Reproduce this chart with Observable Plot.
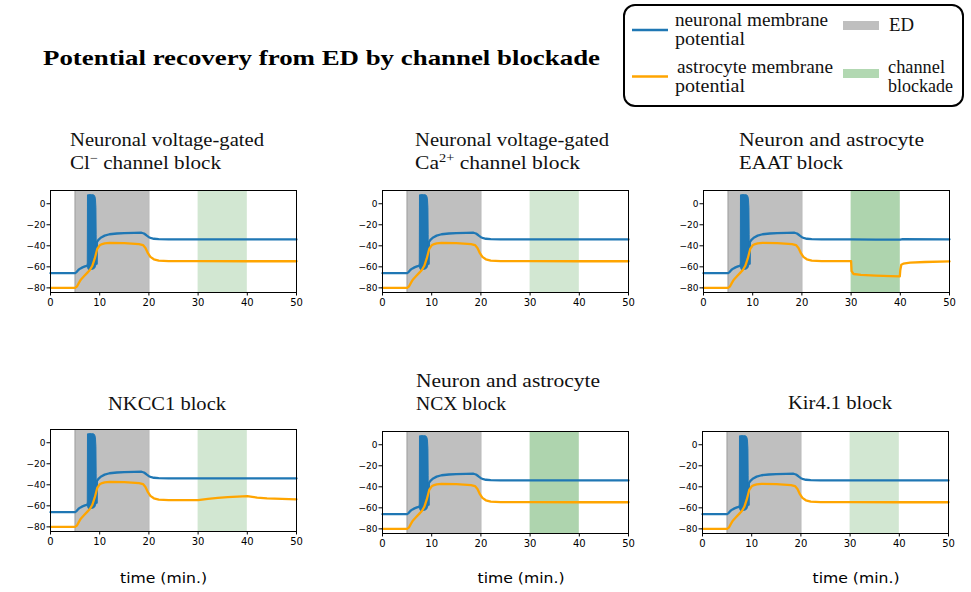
<!DOCTYPE html>
<html><head><meta charset="utf-8">
<script src="https://cdn.jsdelivr.net/npm/d3@7"></script>
<script src="https://cdn.jsdelivr.net/npm/@observablehq/plot@0.6"></script>
<style>
html,body{margin:0;padding:0;background:#fff;}
#root{position:relative;width:971px;height:592px;overflow:hidden;background:#fff;}
.panel{position:absolute;}
#overlay{position:absolute;left:0;top:0;}
</style></head><body><div id="root"></div>
<script>
// ---- tick labels ----
const xTicks = [0, 10, 20, 30, 40, 50];
const yTicks = [0, -20, -40, -60, -80];
// ---- periods (min.) ----
const edPeriod = [5, 20];
const blockPeriod = [30, 40];
// ---- neuronal membrane potential (mV), shared 0-30 min ----
const neuronT = [0, 5, 5.3, 5.7, 6.1, 6.5, 7, 7.6, 9.38, 9.42, 9.8, 10.3, 11, 12, 13.5, 15, 17, 18.5, 19, 19.5, 20, 20.5, 21, 22, 24, 30];
const neuronV = [-66, -66, -65, -62.8, -61.5, -60.5, -59.6, -58.8, -57, -36.5, -34, -32, -30.3, -29, -28.3, -28, -27.7, -27.6, -28.3, -30, -31.8, -32.8, -33.3, -33.6, -33.8, -33.9];
// ---- spike burst envelope (neuron) ----
const spikeT  = [7.58, 7.62, 7.8, 8.4, 8.8, 9.0, 9.15, 9.25, 9.33, 9.38];
const spikeHi = [-58, 8, 8.2, 8.2, 8, 7.5, 6, 3, -4, -30];
const spikeLo = [-58, -61, -63, -63, -62.5, -62, -61, -60, -58, -57];
// ---- astrocyte membrane potential (mV), shared 0-30 min ----
const astroT = [0, 5, 5.4, 5.8, 6.2, 6.8, 7.5, 8, 8.5, 9, 9.5, 10, 10.5, 11, 12, 15, 18, 18.8, 19.3, 19.8, 20.3, 21, 22, 24, 30];
const astroV = [-80, -80, -78.5, -75, -72, -69, -65.5, -63, -59, -52, -43, -39.5, -38.3, -37.6, -37.2, -37.5, -38.4, -39.3, -42, -47, -50.5, -52.8, -54, -54.5, -54.6];
// ---- 30-50 min tails per condition ----
const neuronTailT = [30, 40, 50];
const neuronTailV = [-33.9, -33.9, -33.9];
const neuronTailEaatT = [30, 35, 40, 40.5, 50];
const neuronTailEaatV = [-33.9, -34.1, -34.2, -33.6, -33.8];
const astroTailT = [30, 40, 50];
const astroTailV = [-54.6, -54.7, -54.7];
const astroTailEaatT = [30, 30.1, 30.5, 32, 35, 38, 39.9, 40, 40.2, 40.6, 42, 45, 50];
const astroTailEaatV = [-54.6, -64, -66.8, -67.6, -68.3, -68.8, -69, -63, -58, -57, -56, -55.4, -54.8];
const astroTailNkccT = [30, 32, 34, 36, 38, 40, 41, 42, 44, 47, 50];
const astroTailNkccV = [-54.4, -53.3, -52.4, -51.7, -51.2, -50.7, -51.4, -52.1, -52.9, -53.4, -53.8];
// ---- panels ----
const panelNames = ["Cl", "Ca", "EAAT", "NKCC1", "NCX", "Kir"];
const panelStrongBlock = [false, false, true, false, true, false];

const BLUE = "#1f77b4", ORANGE = "#ffa500", GREY = "#bfbfbf";
const GREEN_LIGHT = "#d2e7d2", GREEN_DARK = "#aed4ae";

const zipRows = (T, V) => T.map((t, i) => ({t, v: V[i]}));
function joinTail(T, V, tT, tV) { return zipRows(T, V).concat(zipRows(tT, tV).slice(1)); }

const layout = [
  {L: 50, T: 190}, {L: 382, T: 190}, {L: 703, T: 190},
  {L: 50, T: 429}, {L: 382, T: 431}, {L: 702, T: 431}
];
const FW = 246, FH = 102, mL = 40, mR = 14, mT = 6, mB = 24;

const root = document.getElementById("root");
panelNames.forEach((name, i) => {
  const nT = name === "EAAT" ? neuronTailEaatT : neuronTailT;
  const nV = name === "EAAT" ? neuronTailEaatV : neuronTailV;
  const aT = name === "EAAT" ? astroTailEaatT : name === "NKCC1" ? astroTailNkccT : astroTailT;
  const aV = name === "EAAT" ? astroTailEaatV : name === "NKCC1" ? astroTailNkccV : astroTailV;
  const neuron = joinTail(neuronT, neuronV, nT, nV);
  const astro = joinTail(astroT, astroV, aT, aV);
  const spike = spikeT.map((t, k) => ({t, hi: spikeHi[k], lo: spikeLo[k]}));
  const chart = Plot.plot({
    width: mL + FW + mR, height: mT + FH + mB,
    marginLeft: mL, marginRight: mR, marginTop: mT, marginBottom: mB,
    style: {fontFamily: "DejaVu Sans", color: "#000", background: "transparent"},
    x: {domain: [0, 50]},
    y: {domain: [-84.4, 12.6]},
    marks: [
      Plot.rect([edPeriod], {x1: d => d[0], x2: d => d[1], fill: GREY}),
      Plot.ruleX(edPeriod, {stroke: "#a3a3a3", strokeWidth: 1}),
      Plot.rect([blockPeriod], {x1: d => d[0], x2: d => d[1], fill: panelStrongBlock[i] ? GREEN_DARK : GREEN_LIGHT}),
      Plot.areaY(spike, {x: "t", y1: "lo", y2: "hi", fill: BLUE, stroke: BLUE, strokeWidth: 1}),
      Plot.line(neuron, {x: "t", y: "v", stroke: BLUE, strokeWidth: 2.3}),
      Plot.line(astro, {x: "t", y: "v", stroke: ORANGE, strokeWidth: 2.3}),
      Plot.frame({stroke: "#000", strokeWidth: 1}),
      Plot.axisX({ticks: xTicks, tickSize: 3.5, tickPadding: 3, fontSize: 10, label: null, tickFormat: d => String(d)}),
      Plot.axisY({ticks: yTicks, tickSize: 3.5, tickPadding: 1.5, fontSize: 9, label: null})
    ]
  });
  chart.classList.add("panel");
  chart.style.left = (layout[i].L - mL) + "px";
  chart.style.top = (layout[i].T - mT) + "px";
  root.appendChild(chart);
});

// ---- text overlay: titles & legend ----
const SERIF = "'Liberation Serif', 'DejaVu Serif', serif";
const SUP = (s) => `<tspan dy="-7" font-size="12">${s}</tspan><tspan dy="7">`;
const titles = [
  {x: 70, y: 146, len: 194, html: "Neuronal voltage-gated"},
  {x: 70, y: 169, len: 151, html: `Cl${SUP("−")} channel block</tspan>`},
  {x: 415, y: 146, len: 194, html: "Neuronal voltage-gated"},
  {x: 415, y: 169, len: 165, html: `Ca${SUP("2+")} channel block</tspan>`},
  {x: 739, y: 146, len: 185, html: "Neuron and astrocyte"},
  {x: 739, y: 169, len: 104, html: "EAAT block"},
  {x: 108, y: 410, len: 118, html: "NKCC1 block"},
  {x: 416, y: 387, len: 184, html: "Neuron and astrocyte"},
  {x: 416, y: 410, len: 90, html: "NCX block"},
  {x: 788, y: 409, len: 104, html: "Kir4.1 block"},
  // legend labels
  {x: 675, y: 26, len: 153, html: "neuronal membrane"},
  {x: 675, y: 45, len: 70, html: "potential"},
  {x: 677, y: 72.5, len: 156, html: "astrocyte membrane"},
  {x: 675, y: 91.5, len: 70, html: "potential"},
  {x: 889, y: 31, len: 25, html: "ED"},
  {x: 888, y: 72.5, len: 57, html: "channel"},
  {x: 888, y: 91.5, len: 65, html: "blockade"}
];
let svg = `<svg id="overlay" width="971" height="592" xmlns="http://www.w3.org/2000/svg">`;
svg += `<text x="43" y="65" font-family="${SERIF}" font-weight="bold" font-size="21" textLength="557" lengthAdjust="spacingAndGlyphs">Potential recovery from ED by channel blockade</text>`;
svg += `<rect x="624" y="5" width="339" height="101" rx="11" ry="11" fill="#fff" stroke="#000" stroke-width="2"/>`;
svg += `<line x1="632" x2="668" y1="30" y2="30" stroke="${BLUE}" stroke-width="2.5"/>`;
svg += `<line x1="632" x2="668" y1="76.5" y2="76.5" stroke="${ORANGE}" stroke-width="2.5"/>`;
svg += `<rect x="843" y="21" width="36" height="9" fill="${GREY}"/>`;
svg += `<rect x="843" y="69" width="36" height="9" fill="#b2d8b2"/>`;
titles.forEach(t => {
  svg += `<text x="${t.x}" y="${t.y}" font-family="${SERIF}" font-size="18" fill="#111" textLength="${t.len}" lengthAdjust="spacingAndGlyphs">${t.html}</text>`;
});
[163.5, 521, 856].forEach(cx => {
  svg += `<text x="${cx}" y="583" text-anchor="middle" font-family="DejaVu Sans" font-size="14" textLength="87" lengthAdjust="spacingAndGlyphs">time (min.)</text>`;
});
svg += `</svg>`;
root.insertAdjacentHTML("beforeend", svg);
</script>
</body></html>
